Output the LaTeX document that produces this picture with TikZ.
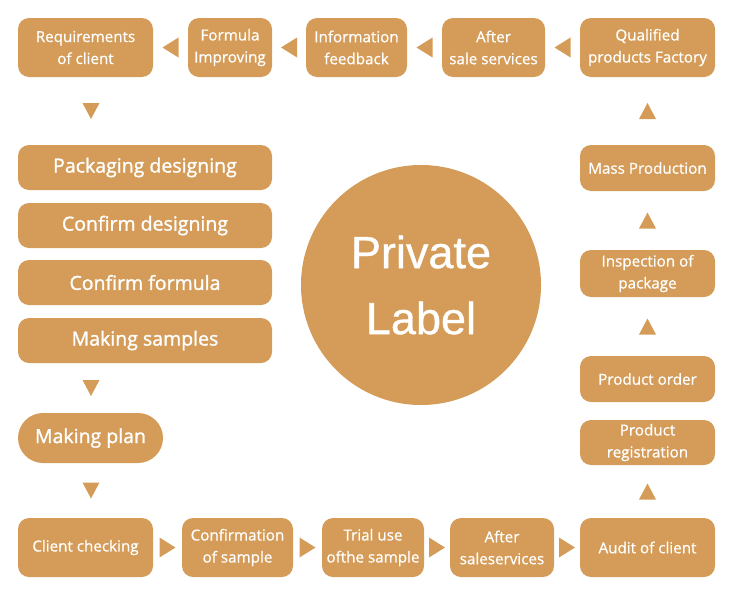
\documentclass[tikz,border=0pt]{standalone}
\usepackage{fontspec}
\setmainfont{Open Sans}[FakeBold=0.7]
\newfontfamily\medfont{Open Sans}[FakeBold=1.4]
\newfontfamily\bigfont{Liberation Sans}[FakeBold=0.8]
\usetikzlibrary{calc}
\definecolor{brand}{HTML}{D49C58}
\tikzset{
  box/.style={fill=brand, text=white, rounded corners=11pt, inner sep=0pt, align=center,
    font=\fontsize{15.2}{22}\selectfont},
  wide/.style={box, minimum width=254pt, minimum height=45pt, font=\medfont\fontsize{19.5}{22}\selectfont},
  tri/.style={fill=brand},
}
\begin{document}
\begin{tikzpicture}[x=1pt,y=-1pt]
\useasboundingbox (0,0) rectangle (735,600);
% top row
\node[box, minimum width=135pt, minimum height=59pt] (req) at (85.5,47.5) {Requirements\\of client};
\node[box, minimum width=84pt, minimum height=59pt] (form) at (230,47.5) {Formula\\Improving};
\node[box, minimum width=101pt, minimum height=59pt] (info) at (356.5,47.5) {Information\\feedback};
\node[box, minimum width=103pt, minimum height=59pt] (aft1) at (493.5,47.5) {After\\sale services};
\node[box, minimum width=135pt, minimum height=59pt] (qual) at (647.5,47.5) {Qualified\\products Factory};
% left column
\node[wide] (pack) at (145,167.5) {Packaging designing};
\node[wide] (cdes) at (145,225.5) {Confirm designing};
\node[wide] (cfor) at (145,282.5) {Confirm formula};
\node[wide] (msam) at (145,340.5) {Making samples};
\node[box, minimum width=145pt, minimum height=50pt, rounded corners=25pt, font=\medfont\fontsize{19.5}{22}\selectfont] (plan) at (90.5,438) {Making plan};
% bottom row
\node[box, minimum width=135pt, minimum height=59pt] (cc) at (85.5,547.5) {Client checking};
\node[box, minimum width=111pt, minimum height=59pt] (cos) at (237.5,547.5) {Confirmation\\of sample};
\node[box, minimum width=102pt, minimum height=59pt] (trial) at (373,547.5) {Trial use\\ofthe sample};
\node[box, minimum width=104pt, minimum height=59pt] (aft2) at (502,547.5) {After\\saleservices};
\node[box, minimum width=135pt, minimum height=59pt] (audit) at (647.5,547.5) {Audit of client};
% right column
\node[box, minimum width=135pt, minimum height=45pt] (reg) at (647.5,442.5) {Product\\registration};
\node[box, minimum width=135pt, minimum height=46pt] (order) at (647.5,379) {Product order};
\node[box, minimum width=135pt, minimum height=47pt] (insp) at (647.5,273.5) {Inspection of\\package};
\node[box, minimum width=135pt, minimum height=46pt] (mass) at (647.5,168) {Mass Production};
% circle
\node[circle, fill=brand, text=white, minimum size=240pt, inner sep=0pt, align=center,
  font=\bigfont\fontsize{45}{66}\selectfont] (pl) at (421,285) {Private\\Label};
% down-arrow axis
\coordinate (dax) at (91,0);
% left-pointing triangles
\foreach \a/\b in {form/req, info/form, aft1/info, qual/aft1}{
  \fill[tri] ($(\a.west)!0.5!(\b.east)$) ++(-8,0) -- ++(16,-10) -- ++(0,20) -- cycle;
}
% right-pointing triangles
\foreach \a/\b in {cc/cos, cos/trial, trial/aft2, aft2/audit}{
  \fill[tri] ($(\a.east)!0.5!(\b.west)$) ++(8,0) -- ++(-16,-10) -- ++(0,20) -- cycle;
}
% down triangles
\foreach \a/\b in {req/pack, msam/plan, plan/cc}{
  \fill[tri] ($(\a.south -| dax)!0.5!(\b.north -| dax)$) ++(0,8) -- ++(-8.5,-16) -- ++(17,0) -- cycle;
}
% up triangles
\foreach \a/\b in {audit/reg, order/insp, insp/mass, mass/qual}{
  \fill[tri] ($(\a.north)!0.5!(\b.south)$) ++(0,-8) -- ++(-8.5,16) -- ++(17,0) -- cycle;
}
\end{tikzpicture}
\end{document}
